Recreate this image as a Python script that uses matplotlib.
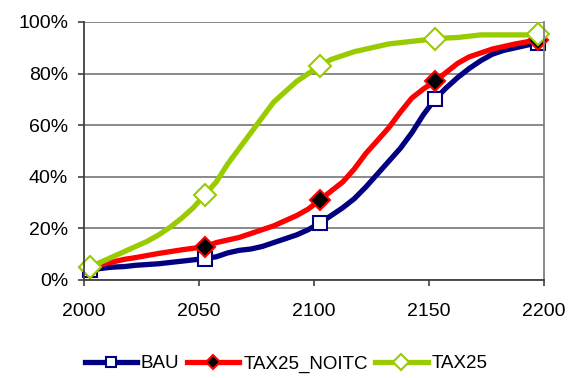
import numpy as np
import matplotlib
matplotlib.use("Agg")
import matplotlib.pyplot as plt
from matplotlib.ticker import FuncFormatter

plt.rcParams['font.family'] = ['Liberation Sans', 'DejaVu Sans']

# five-year steps, 2000..2195
years = list(range(2000, 2200, 5))
xtick_labels = ["2000", "2050", "2100", "2150", "2200"]
yticks = [0, 20, 40, 60, 80, 100]

bau = [3.8, 4.5, 5.0, 5.2, 5.7, 6.0, 6.3, 6.8, 7.3, 7.8,
       8.3, 9.0, 10.5, 11.5, 12.0, 13.0, 14.5, 16.0, 17.5, 19.5,
       22.0, 25.0, 28.0, 31.5, 36.0, 41.0, 46.0, 51.0, 57.0, 64.0,
       70.0, 74.5, 78.5, 82.0, 85.0, 87.5, 89.0, 90.0, 91.0, 92.0]
tax25_noitc = [4.5, 6.0, 7.0, 8.0, 8.7, 9.5, 10.3, 11.0, 11.7, 12.3,
               12.8, 14.5, 15.5, 16.5, 18.0, 19.5, 21.0, 23.0, 25.0, 27.5,
               31.0, 34.5, 38.0, 43.0, 49.0, 54.0, 59.0, 65.0, 70.5, 74.0,
               77.0, 80.5, 84.0, 86.5, 88.0, 89.5, 90.5, 91.5, 92.3, 93.0]
tax25 = [5.0, 7.0, 9.0, 11.0, 13.0, 15.0, 17.5, 20.5, 24.0, 28.0,
         33.0, 38.0, 45.0, 51.0, 57.0, 63.0, 69.0, 73.0, 77.0, 80.0,
         83.0, 85.5, 87.0, 88.5, 89.5, 90.5, 91.5, 92.0, 92.5, 93.0,
         93.5, 93.8, 94.0, 94.5, 95.0, 95.0, 95.0, 95.0, 95.0, 95.5]

# category axis: one slot per year, markers every 50 years plus the last one
x = np.arange(len(years))
marks = [0, 10, 20, 30, len(years) - 1]

fig = plt.figure(figsize=(5.76, 3.78), dpi=100)
ax = fig.add_axes([84 / 576, 98 / 378, 460 / 576, 258 / 378])

series = [
    ("BAU", bau, "#000080", "s", "white", 10),
    ("TAX25_NOITC", tax25_noitc, "#FF0000", "D", "black", 10),
    ("TAX25", tax25, "#99CC00", "D", "white", 11),
]
for name, vals, col, mk, face, ms in series:
    ax.plot(x, vals, color=col, lw=3.8, marker=mk, markevery=marks,
            ms=ms, mfc=face, mec=col, mew=1.5, label=name, clip_on=False,
            solid_joinstyle="round")

ax.set_xlim(-0.5, len(years) - 0.5)
ax.set_xticks(np.linspace(-0.5, len(years) - 0.5, len(xtick_labels)))
ax.set_xticklabels(xtick_labels)
ax.set_ylim(0, 100)
ax.set_yticks(yticks)
ax.yaxis.set_major_formatter(FuncFormatter(lambda v, p: f"{v:.0f}%"))

ax.grid(axis="y", color="#808080", lw=1.3)
ax.set_axisbelow(True)
for s in ["left", "bottom"]:
    ax.spines[s].set_color("#404040")
    ax.spines[s].set_linewidth(1.3)
ax.spines["right"].set_color("#808080")
ax.spines["right"].set_linewidth(1.3)
ax.spines["top"].set_visible(False)
ax.tick_params(axis="both", direction="out", length=4.5, width=1.2,
               color="#404040", labelsize=14, pad=7)
ax.tick_params(axis="x", pad=12)

ax.legend(loc="center", bbox_to_anchor=(286 / 576, 1 - 364 / 378),
          bbox_transform=fig.transFigure, ncol=3,
          frameon=False, fontsize=13.5, handlelength=2.8, handletextpad=0.2,
          columnspacing=0.4, markerscale=0.7)

fig.savefig("out.png", dpi=100)
